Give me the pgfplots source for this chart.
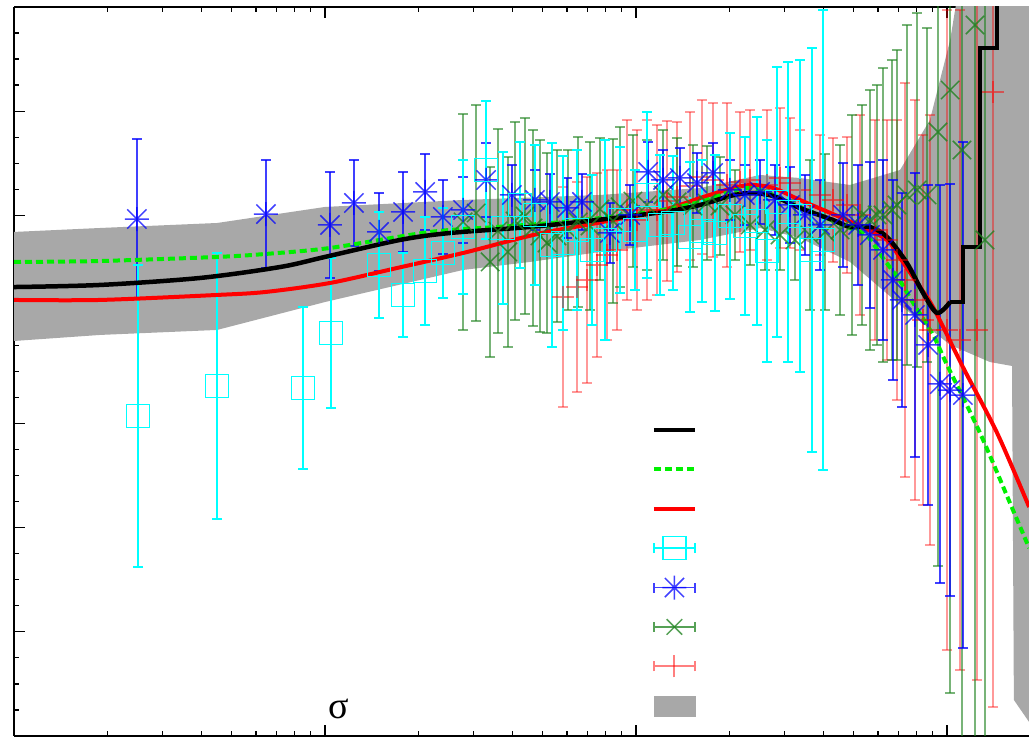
\documentclass[border=0pt]{standalone}
\usepackage{fontspec}
\setmainfont{Liberation Serif}
\usepackage{pgfplots}
\pgfplotsset{compat=1.18}
\usepgfplotslibrary{fillbetween}
\definecolor{bandgray}{RGB}{168,168,168}
\definecolor{gpgreen}{RGB}{0,240,0}
\definecolor{dkgreen}{RGB}{30,130,30}
\definecolor{gpcyan}{RGB}{0,255,255}
\definecolor{gpblue}{RGB}{0,0,255}
\definecolor{gpred}{RGB}{255,0,0}
\pgfdeclareplotmark{gpstar}{%
  \pgfpathmoveto{\pgfqpoint{-\pgfplotmarksize}{0pt}}\pgfpathlineto{\pgfqpoint{\pgfplotmarksize}{0pt}}%
  \pgfpathmoveto{\pgfqpoint{0pt}{-\pgfplotmarksize}}\pgfpathlineto{\pgfqpoint{0pt}{\pgfplotmarksize}}%
  \pgfpathmoveto{\pgfqpoint{-0.8\pgfplotmarksize}{-0.8\pgfplotmarksize}}\pgfpathlineto{\pgfqpoint{0.8\pgfplotmarksize}{0.8\pgfplotmarksize}}%
  \pgfpathmoveto{\pgfqpoint{-0.8\pgfplotmarksize}{0.8\pgfplotmarksize}}\pgfpathlineto{\pgfqpoint{0.8\pgfplotmarksize}{-0.8\pgfplotmarksize}}%
  \pgfusepathqstroke}
\begin{document}
\begin{tikzpicture}
\begin{axis}[
  scale only axis, width=1015pt, height=729pt,
  xmode=log, xmin=0.1, xmax=183.5, ymin=0, ymax=7,
  axis y line*=left,
  ytick={0,1,2,3,4,5,6,7}, minor y tick num=3,
  xtick={0.1,1,10,100},
  xticklabels={}, yticklabels={},
  tick align=inside,
  major tick length=11pt, minor tick length=5pt,
  tick style={black, line width=1.2pt},
  axis line style={black, line width=1.6pt},
  legend style={at={(axis cs:11.25,3.128)}, anchor=north west, draw=none, fill=none,
    inner sep=0pt, outer sep=0pt, row sep=0pt, column sep=0pt,
    nodes={inner sep=0pt, minimum height=39.4pt, minimum width=0pt}},
]
% ---- uncertainty band
\addplot[draw=none, name path=up, forget plot] table[x expr=10^(\thisrow{lx}), y=y] {
lx y
-1.000 4.840
-0.723 4.878
-0.347 4.926
0.000 5.080
0.444 5.147
0.884 5.195
1.206 5.262
1.399 5.387
1.527 5.358
1.688 5.291
1.849 5.435
1.945 5.915
2.010 6.683
2.042 7.260
2.264 7.260
};
\addplot[draw=none, name path=lo, forget plot] table[x expr=10^(\thisrow{lx}), y=y] {
lx y
-1.000 3.793
-0.723 3.851
-0.347 3.899
0.000 4.167
0.444 4.475
0.659 4.552
0.884 4.648
1.206 4.763
1.399 4.878
1.527 4.782
1.688 4.552
1.849 4.139
2.010 3.755
2.138 3.591
2.209 3.553
2.215 0.346
2.264 0.134
};
\addplot[bandgray, forget plot] fill between[of=up and lo];
% ---- red +
\addplot[forget plot, only marks, mark=+, mark size=11pt, mark options={gpred, opacity=0.5, line width=1.5pt},
  error bars/.cd, y dir=both, y explicit,
  error bar style={gpred, opacity=0.4, line width=2pt},
  error mark options={rotate=90, gpred, opacity=0.4, mark size=5pt, line width=2pt}]
  table[x expr=10^(\thisrow{lx}), y=y, y error=e] {
lx y e
0.765 4.215 1.056
0.810 4.311 1.008
0.842 4.379 0.989
0.875 4.523 0.883
0.907 4.619 0.816
0.939 4.667 0.768
0.971 5.051 0.864
1.003 4.955 0.864
1.035 5.051 0.864
1.068 5.051 0.816
1.100 5.137 0.768
1.132 5.176 0.720
1.174 5.281 0.711
1.212 5.368 0.739
1.248 5.339 0.739
1.293 5.291 0.787
1.334 5.320 0.672
1.367 5.339 0.672
1.421 5.291 0.720
1.463 5.358 0.672
1.495 5.310 0.624
1.527 5.243 0.576
1.592 5.195 0.576
1.633 5.147 0.595
1.678 5.099 0.653
1.720 5.003 0.960
1.768 4.859 1.056
1.807 4.763 1.152
1.839 4.571 1.344
1.865 4.379 1.892
1.897 4.187 1.920
1.923 3.995 1.776
1.945 3.899 2.065
2.000 3.899 3.073
2.042 3.803 3.169
2.096 3.899 3.361
2.148 6.184 5.905
};
% ---- green x
\addplot[forget plot, only marks, mark=x, mark size=13pt, mark options={dkgreen, opacity=0.8, line width=1.5pt},
  error bars/.cd, y dir=both, y explicit,
  error bar style={dkgreen, opacity=0.6, line width=2pt},
  error mark options={rotate=90, dkgreen, opacity=0.6, mark size=5pt, line width=2pt}]
  table[x expr=10^(\thisrow{lx}), y=y, y error=e] {
lx y e
0.444 4.936 1.037
0.486 5.022 1.037
0.531 4.552 0.912
0.556 4.849 0.979
0.588 4.648 0.912
0.611 4.945 0.951
0.643 4.993 0.941
0.669 4.878 0.941
0.691 4.801 0.922
0.714 4.734 0.864
0.746 4.801 0.826
0.781 4.859 0.768
0.814 4.936 0.816
0.852 4.897 0.807
0.884 5.060 0.682
0.926 4.945 0.787
0.949 5.080 0.768
0.990 5.137 0.634
1.035 5.099 0.624
1.087 5.195 0.624
1.132 5.128 0.615
1.183 5.089 0.586
1.228 5.118 0.547
1.270 5.089 0.471
1.318 5.003 0.432
1.367 4.907 0.384
1.415 4.859 0.384
1.463 4.811 0.336
1.511 4.763 0.384
1.559 4.811 0.720
1.608 4.840 0.749
1.656 4.859 0.816
1.695 4.907 1.056
1.727 5.003 1.056
1.752 4.955 1.248
1.775 5.003 1.248
1.794 5.003 1.412
1.823 5.051 1.440
1.839 5.099 1.488
1.871 5.195 1.632
1.904 5.243 1.700
1.936 5.195 1.604
1.971 5.800 4.168
2.010 6.203 5.790
2.048 5.627 5.761
2.090 6.827 6.914
2.122 4.763 5.281
};
% ---- blue *
\addplot[forget plot, only marks, mark=gpstar, mark size=12pt, mark options={gpblue, opacity=0.75, line width=1.5pt},
  error bars/.cd, y dir=both, y explicit,
  error bar style={gpblue, opacity=0.75, line width=1.5pt},
  error mark options={rotate=90, gpblue, opacity=0.75, mark size=5pt, line width=1.5pt}]
  table[x expr=10^(\thisrow{lx}), y=y, y error=e] {
lx y e
-0.605 4.964 0.768
-0.190 5.012 0.519
0.016 4.907 0.509
0.093 5.118 0.413
0.174 4.840 0.374
0.251 5.032 0.384
0.322 5.224 0.365
0.379 4.984 0.355
0.444 5.051 0.317
0.518 5.339 0.355
0.601 5.195 0.288
0.675 5.147 0.288
0.723 5.128 0.269
0.778 5.070 0.288
0.826 5.128 0.269
0.916 4.830 0.288
0.981 5.003 0.288
1.039 5.416 0.288
1.087 5.339 0.288
1.141 5.358 0.288
1.196 5.310 0.288
1.248 5.406 0.288
1.302 5.243 0.288
1.350 5.195 0.288
1.399 5.224 0.307
1.447 5.147 0.336
1.495 5.099 0.365
1.543 5.003 0.384
1.592 4.907 0.432
1.666 5.003 0.499
1.714 4.907 0.576
1.752 4.811 0.701
1.794 4.667 0.864
1.826 4.379 0.960
1.855 4.187 1.027
1.897 4.043 1.364
1.939 3.755 1.536
1.977 3.380 1.911
2.010 3.322 1.978
2.051 3.274 2.429
};
% ---- cyan squares
\addplot[forget plot, only marks, mark=square, mark size=11.5pt, mark options={gpcyan, line width=1.5pt},
  error bars/.cd, y dir=both, y explicit,
  error bar style={gpcyan, line width=1.5pt},
  error mark options={rotate=90, gpcyan, mark size=5pt, line width=1.5pt}]
  table[x expr=10^(\thisrow{lx}), y=y, y error=e] {
lx y e
-0.601 3.073 1.450
-0.347 3.361 1.277
-0.071 3.342 0.778
0.019 3.870 0.720
0.174 4.523 0.509
0.251 4.235 0.403
0.322 4.465 0.519
0.379 4.638 0.432
0.444 4.888 0.643
0.518 5.435 0.663
0.572 4.878 0.730
0.627 5.099 0.605
0.675 5.003 0.672
0.730 4.715 0.979
0.765 4.734 0.835
0.810 4.859 0.768
0.859 4.667 0.720
0.900 4.763 0.960
0.949 4.955 0.701
0.997 4.859 0.576
1.035 5.195 0.797
1.077 4.907 0.672
1.119 4.926 0.643
1.174 4.792 0.720
1.212 4.849 0.682
1.254 4.830 0.749
1.302 4.993 0.797
1.350 4.897 0.855
1.389 4.945 0.999
1.421 4.657 1.066
1.453 5.128 1.296
1.489 5.032 1.440
1.527 4.993 1.498
1.566 4.667 1.940
1.601 4.763 2.209
};
% ---- red curve
\addplot[forget plot, gpred, line width=4pt, no marks, smooth, tension=0.5] table[x expr=10^(\thisrow{lx}), y=y] {
lx y
-1.000 4.187
-0.723 4.187
-0.347 4.235
-0.190 4.264
0.016 4.350
0.232 4.494
0.444 4.638
0.605 4.763
0.714 4.840
0.875 4.926
1.087 5.051
1.206 5.166
1.302 5.253
1.367 5.291
1.441 5.262
1.527 5.147
1.633 5.012
1.720 4.897
1.807 4.763
1.849 4.590
1.897 4.379
1.955 4.119
2.051 3.543
2.161 2.910
2.264 2.199
};
% ---- green dashed curve
\addplot[forget plot, gpgreen, line width=4pt, no marks, smooth, tension=0.5, dash pattern=on 7pt off 4pt] table[x expr=10^(\thisrow{lx}), y=y] {
lx y
-1.000 4.552
-0.723 4.561
-0.347 4.600
-0.190 4.629
0.016 4.686
0.338 4.840
0.553 4.888
0.765 4.936
1.045 5.032
1.206 5.128
1.367 5.262
1.527 5.080
1.688 4.878
1.743 4.801
1.794 4.590
1.849 4.369
1.891 4.158
1.955 3.851
2.000 3.563
2.106 2.910
2.212 2.170
2.264 1.805
};
% ---- black curve (smooth part, then steps)
\addplot[forget plot, black, line width=4.5pt, no marks, smooth, tension=0.5] table[x expr=10^(\thisrow{lx}), y=y] {
lx y
-1.000 4.311
-0.723 4.331
-0.402 4.398
-0.145 4.503
0.000 4.600
0.241 4.763
0.402 4.830
0.659 4.888
0.875 4.955
1.087 5.032
1.206 5.099
1.302 5.185
1.367 5.214
1.441 5.185
1.527 5.070
1.633 4.955
1.688 4.888
1.752 4.888
1.807 4.792
1.871 4.542
1.923 4.254
1.968 4.062
2.010 4.167
};
\addplot[forget plot, black, line width=4.5pt, no marks] table[x expr=10^(\thisrow{lx}), y=y] {
lx y
2.010 4.167
2.051 4.167
2.051 4.696
2.106 4.696
2.106 6.607
2.161 6.607
2.161 7.260
};
\node[black] at (axis cs:1.109,0.259) {\fontsize{38}{38}\selectfont σ};
% ---- legend
\addlegendimage{legend image code/.code={\draw[black,line width=4pt] (0pt,0pt)--(41pt,0pt);}}
\addlegendentry{\mbox{}}
\addlegendimage{legend image code/.code={\draw[gpgreen,line width=4pt,dash pattern=on 7pt off 4pt] (0pt,0pt)--(41pt,0pt);}}
\addlegendentry{\mbox{}}
\addlegendimage{legend image code/.code={\draw[gpred,line width=4pt] (0pt,0pt)--(41pt,0pt);}}
\addlegendentry{\mbox{}}
\addlegendimage{legend image code/.code={
  \draw[gpcyan,line width=1.5pt] (0pt,0pt)--(41pt,0pt) (0pt,-5pt)--(0pt,5pt) (41pt,-5pt)--(41pt,5pt);
  \draw[gpcyan,line width=1.5pt,mark=square,mark size=11.5pt] plot coordinates {(20.5pt,0pt)};}}
\addlegendentry{\mbox{}}
\addlegendimage{legend image code/.code={
  \draw[gpblue,opacity=0.75,line width=1.5pt] (0pt,0pt)--(41pt,0pt) (0pt,-5pt)--(0pt,5pt) (41pt,-5pt)--(41pt,5pt);
  \draw[gpblue,opacity=0.75,line width=1.5pt,mark=gpstar,mark size=12pt] plot coordinates {(20.5pt,0pt)};}}
\addlegendentry{\mbox{}}
\addlegendimage{legend image code/.code={
  \draw[dkgreen,opacity=0.75,line width=2pt] (0pt,0pt)--(41pt,0pt) (0pt,-5pt)--(0pt,5pt) (41pt,-5pt)--(41pt,5pt);
  \draw[dkgreen,opacity=0.75,line width=1.5pt,mark=x,mark size=11pt] plot coordinates {(20.5pt,0pt)};}}
\addlegendentry{\mbox{}}
\addlegendimage{legend image code/.code={
  \draw[gpred,opacity=0.5,line width=2pt] (0pt,0pt)--(41pt,0pt) (0pt,-5pt)--(0pt,5pt) (41pt,-5pt)--(41pt,5pt);
  \draw[gpred,opacity=0.5,line width=2pt] (20.5pt,-11pt)--(20.5pt,11pt);}}
\addlegendentry{\mbox{}}
\addlegendimage{legend image code/.code={\fill[bandgray] (0pt,-10pt) rectangle (41pt,10pt);}}
\addlegendentry{\mbox{}}
\end{axis}
\pgfresetboundingbox
\useasboundingbox (-14pt,-1pt) rectangle (1015pt,736pt);
\end{tikzpicture}
\end{document}
